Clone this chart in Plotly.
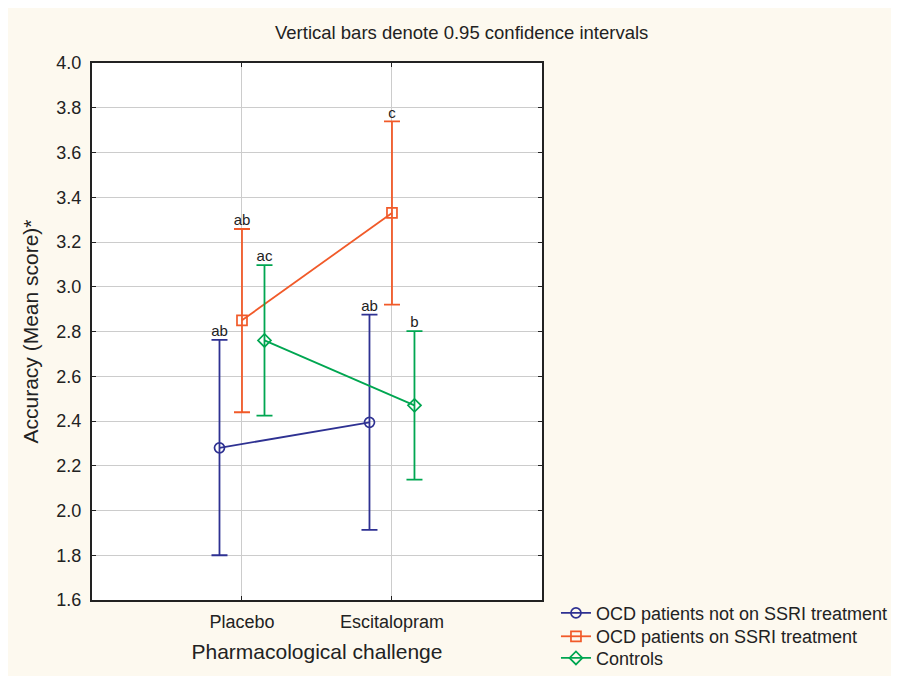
import plotly.graph_objects as go

categories = ["Placebo", "Escitalopram"]
series_names = ["OCD patients not on SSRI treatment", "OCD patients on SSRI treatment", "Controls"]
means = [[2.28, 2.394], [2.85, 3.33], [2.76, 2.47]]
lower = [[1.80, 1.913], [2.439, 2.92], [2.424, 2.138]]
upper = [[2.763, 2.875], [3.258, 3.739], [3.097, 2.802]]
letters = [["ab", "ab"], ["ab", "c"], ["ac", "b"]]
y_ticks = [1.6, 1.8, 2.0, 2.2, 2.4, 2.6, 2.8, 3.0, 3.2, 3.4, 3.6, 3.8, 4.0]

colors = ["#2E3192", "#F15A29", "#00A651"]
symbols = ["circle-open", "square-open", "diamond-open"]
dodge = [-0.15, 0.0, 0.15]
legend_ids = ["legend", "legend2", "legend3"]
legend_y = [0.1217, 0.0867, 0.0543]
FONT = "Arial, Liberation Sans, sans-serif"
BG = "#FDF9EF"

fig = go.Figure()
for i, name in enumerate(series_names):
    xs = [k + dodge[i] for k in range(len(categories))]
    err_plus = [u - m for u, m in zip(upper[i], means[i])]
    err_minus = [m - l for m, l in zip(means[i], lower[i])]
    fig.add_trace(go.Scatter(
        x=xs, y=means[i], name=name, mode="lines+markers", legend=legend_ids[i],
        line=dict(color=colors[i], width=1.8),
        marker=dict(symbol=symbols[i], size=10, color=colors[i], line=dict(width=1.7, color=colors[i])),
        error_y=dict(type="data", symmetric=False, array=err_plus, arrayminus=err_minus,
                     color=colors[i], thickness=1.8, width=8),
    ))
    fig.add_trace(go.Scatter(
        x=xs, y=upper[i], mode="text", text=letters[i], textposition="top center",
        textfont=dict(family=FONT, size=15, color="#222222"), showlegend=False, hoverinfo="skip",
    ))

fig.add_annotation(text="Vertical bars denote 0.95 confidence intervals", xref="paper", yref="paper",
                   x=0.8204, y=1.0577, showarrow=False, xanchor="center", yanchor="middle",
                   font=dict(family=FONT, size=18.5, color="#222222"))

legend_style = dict(xref="container", yref="container", x=0.615, xanchor="left", yanchor="top",
                    bgcolor="rgba(0,0,0,0)", font=dict(family=FONT, size=18, color="#222222"),
                    itemwidth=30)
legends = {lid: dict(legend_style, y=ly) for lid, ly in zip(legend_ids, legend_y)}

fig.update_layout(
    width=891, height=668,
    margin=dict(l=84, r=356, t=55, b=76),
    paper_bgcolor=BG, plot_bgcolor="white",
    font=dict(family=FONT, size=18, color="#222222"),
    showlegend=True,
    xaxis=dict(range=[-1, 2], tickvals=list(range(len(categories))), ticktext=categories,
               showgrid=True, gridcolor="#CCCCCC", gridwidth=1, zeroline=False,
               showline=True, linecolor="#222222", linewidth=2, mirror="ticks",
               ticks="inside", ticklen=4, tickcolor="#222222",
               title=dict(text="Pharmacological challenge", font=dict(size=21), standoff=14),
               tickfont=dict(size=18), ticklabelstandoff=4),
    yaxis=dict(range=[1.6, 4.0], tickvals=y_ticks, tickformat=".1f",
               showgrid=True, gridcolor="#CCCCCC", gridwidth=1, zeroline=False,
               showline=True, linecolor="#222222", linewidth=2, mirror="ticks",
               ticks="inside", ticklen=4, tickcolor="#222222",
               title=dict(text="Accuracy (Mean score)*", font=dict(size=21), standoff=12),
               tickfont=dict(size=18), ticklabelstandoff=5),
    **legends,
)

fig.write_html("out.html")
